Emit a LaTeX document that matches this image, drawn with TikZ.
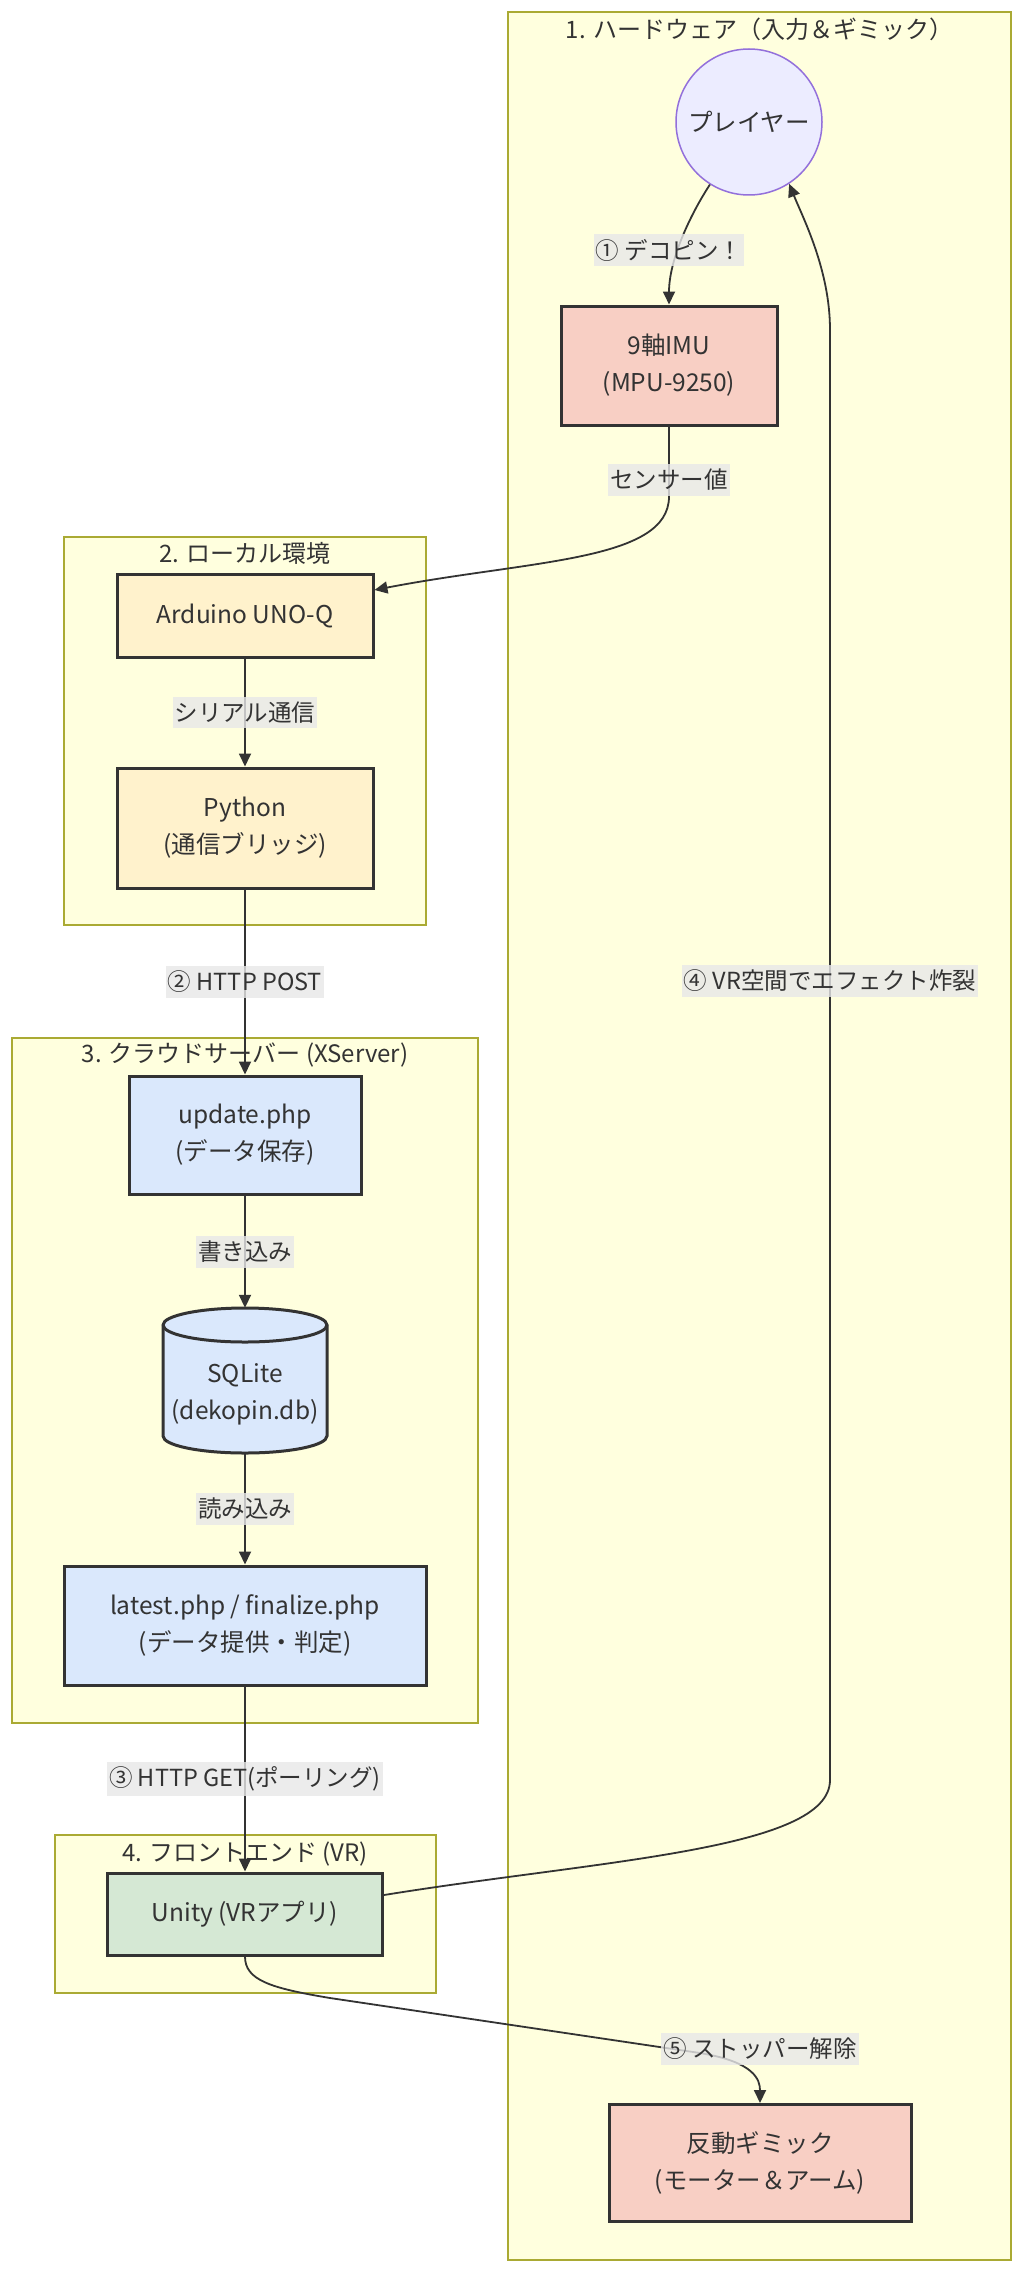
\documentclass[tikz,border=0pt]{standalone}
\usepackage{fontspec}
\setmainfont{Noto Sans CJK JP}
\usetikzlibrary{arrows.meta}
\definecolor{ink}{HTML}{333333}
\definecolor{clfill}{HTML}{FFFFDE}
\definecolor{cldraw}{HTML}{AAAA33}
\definecolor{lblbg}{HTML}{E8E8E8}
\definecolor{hwfill}{HTML}{F8CFC4}
\definecolor{lcfill}{HTML}{FFF2CC}
\definecolor{svfill}{HTML}{DAE8FC}
\definecolor{vrfill}{HTML}{D5E8D4}
\definecolor{plfill}{HTML}{ECECFF}
\definecolor{pldraw}{HTML}{9370DB}
\begin{document}
\begin{tikzpicture}[x=1pt,y=-1pt,
  cluster/.style={draw=cldraw,fill=clfill,line width=1.3pt,inner sep=0pt},
  ctitle/.style={text=ink,font=\fontsize{24}{28}\selectfont,inner sep=0pt},
  box/.style={draw=ink,line width=3pt,text=ink,align=center,font=\fontsize{24.5}{37}\selectfont,inner sep=0pt},
  elabel/.style={fill=lblbg,fill opacity=0.8,text opacity=1,text=ink,font=\fontsize{23.5}{28}\selectfont,inner xsep=2pt,inner ysep=5pt},
  conn/.style={draw=ink,line width=1.8pt,-{Triangle[length=13pt,width=12pt]}}]
\useasboundingbox (0,0) rectangle (1024,2274);
\fill[white] (0,0) rectangle (1024,2274);

% clusters
\node[cluster,minimum width=503pt,minimum height=2248pt] (c1) at (759.5,1136) {};
\node[cluster,minimum width=362pt,minimum height=388pt] (c2) at (245,731) {};
\node[cluster,minimum width=466pt,minimum height=685pt] (c3) at (245,1380.5) {};
\node[cluster,minimum width=381pt,minimum height=158pt] (c4) at (245.5,1914) {};
\node[ctitle] (t1) at (759.5,29) {1. ハードウェア（入力＆ギミック）};
\node[ctitle] (t2) at (245,553) {2. ローカル環境};
\node[ctitle] (t3) at (245,1055) {3. クラウドサーバー (XServer)};
\node[ctitle] (t4) at (245,1854) {4. フロントエンド (VR)};

% nodes
\node[circle,draw=pldraw,fill=plfill,line width=1.5pt,minimum size=146pt,inner sep=0pt,text=ink,font=\fontsize{24.5}{28}\selectfont] (player) at (749,122) {プレイヤー};
\node[box,fill=hwfill,minimum width=216pt,minimum height=119pt] (imu) at (669,365.5) {9軸IMU\\(MPU-9250)};
\node[box,fill=hwfill,minimum width=302pt,minimum height=117pt] (hando) at (760,2163) {反動ギミック\\(モーター＆アーム)};
\node[box,fill=lcfill,minimum width=256pt,minimum height=83pt] (arduino) at (245,615.5) {Arduino UNO-Q};
\node[box,fill=lcfill,minimum width=256pt,minimum height=120pt] (python) at (245,828) {Python\\(通信ブリッジ)};
\node[box,fill=svfill,minimum width=232pt,minimum height=118pt] (update) at (245,1135) {update.php\\(データ保存)};
\filldraw[fill=svfill,draw=ink,line width=3pt] (163,1325) -- (163,1436)
  arc[start angle=180,end angle=0,x radius=82,y radius=17] -- (327,1325)
  arc[start angle=0,end angle=-180,x radius=82,y radius=17] -- cycle;
\draw[ink,line width=3pt] (163,1325) arc[start angle=180,end angle=0,x radius=82,y radius=17];
\node[text=ink,align=center,font=\fontsize{24.5}{37}\selectfont,inner sep=0pt,minimum width=164pt,minimum height=173pt] (sql) at (245,1394.5) {SQLite\\(dekopin.db)};
\node[box,fill=svfill,minimum width=362pt,minimum height=119pt] (latest) at (245,1625.5) {latest.php / finalize.php\\(データ提供・判定)};
\node[box,fill=vrfill,minimum width=275pt,minimum height=82pt] (unity) at (245,1914) {Unity (VRアプリ)};

% connectors
\draw[conn] (player.238) .. controls (690,215) and (669,260) .. (imu.north)
  node[elabel] at (669,250) {① デコピン！};
\draw[conn] (imu.south) -- ++(0,70) .. controls +(0,65) and (530,560) .. ([yshift=25.5pt]arduino.east)
  node[elabel] at (669,480) {センサー値};
\draw[conn] (arduino) -- node[elabel] {シリアル通信} (python);
\draw[conn] (python) -- node[elabel] {② HTTP POST} (update);
\draw[conn] (update) -- node[elabel] {書き込み} (sql);
\draw[conn] ([yshift=28pt]sql.south) -- node[elabel] {読み込み} (latest.north);
\draw[conn] (latest) -- node[elabel] {③ HTTP GET(ポーリング)} (unity);
\draw[conn] ([yshift=19pt]unity.east) .. controls (600,1860) and (830,1850) .. (830,1780)
  -- (830,330) .. controls (830,270) and (803,218) .. (player.-57)
  node[elabel] at (830,981) {④ VR空間でエフェクト炸裂};
\draw[conn] (unity.south) .. controls (245,1980) and (270,1988) .. (330,1998)
  -- (700,2053) .. controls (755,2062) and (760,2080) .. (hando.north)
  node[elabel] at (760,2049) {⑤ ストッパー解除};
\end{tikzpicture}
\end{document}
